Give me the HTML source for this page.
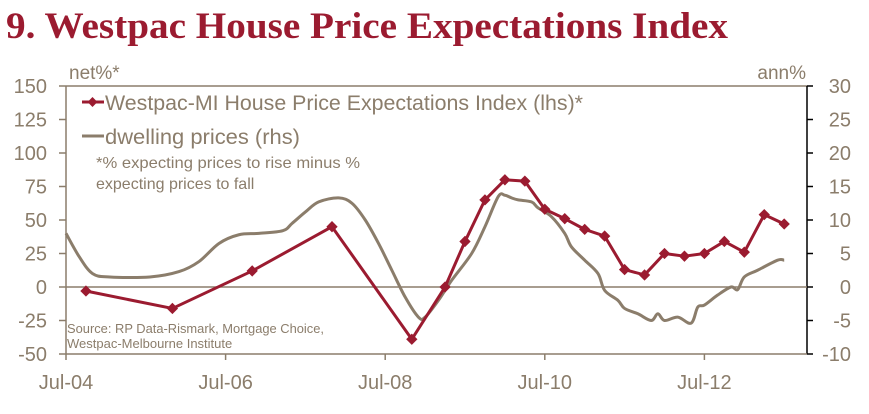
<!DOCTYPE html>
<html><head><meta charset="utf-8"><style>
body{margin:0;background:#fff;}
svg text{font-family:"Liberation Sans",sans-serif;}
</style></head><body>
<svg id="chart" width="869" height="409" xmlns="http://www.w3.org/2000/svg">
<text x="6" y="38" textLength="722" lengthAdjust="spacingAndGlyphs" style="font-family:'Liberation Serif',serif;font-weight:bold;font-size:37px;fill:#9B1B30">9. Westpac House Price Expectations Index</text>
<text x="69" y="79" font-size="19" fill="#8B7D6B">net%*</text>
<text x="806" y="79" font-size="19" fill="#8B7D6B" text-anchor="end">ann%</text>
<g id="axes"></g>
<g id="series"></g>
<g>
<line x1="82" y1="102" x2="104" y2="102" stroke="#9B1B30" stroke-width="3"/>
<rect x="89" y="98.5" width="7" height="7" fill="#9B1B30" transform="rotate(45 92.5 102)"/>
<text x="105" y="110" font-size="21" textLength="478" lengthAdjust="spacingAndGlyphs" fill="#8B7D6B">Westpac-MI House Price Expectations Index (lhs)*</text>
<line x1="82" y1="136" x2="104" y2="136" stroke="#8B7D6B" stroke-width="3"/>
<text x="105" y="144" font-size="21" textLength="195" lengthAdjust="spacingAndGlyphs" fill="#8B7D6B">dwelling prices (rhs)</text>
<text x="96" y="168" font-size="16" textLength="264" lengthAdjust="spacingAndGlyphs" fill="#8B7D6B">*% expecting prices to rise minus %</text>
<text x="96" y="189" font-size="16" fill="#8B7D6B">expecting prices to fall</text>
</g>
<text x="67" y="333" font-size="13" textLength="257" lengthAdjust="spacingAndGlyphs" fill="#8B7D6B">Source: RP Data-Rismark, Mortgage Choice,</text>
<text x="67" y="348" font-size="13" fill="#8B7D6B">Westpac-Melbourne Institute</text>
</svg>
<script>
const lhsTicks=[-50,-25,0,25,50,75,100,125,150];
const rhsTicks=[-10,-5,0,5,10,15,20,25,30];
const xTickLabels=["Jul-04","Jul-06","Jul-08","Jul-10","Jul-12"];
const xTickMonths=[0,24,48,72,96];
const expMonths=[3,16,28,40,52,57,60,63,66,69,72,75,78,81,84,87,90,93,96,99,102,105,108];
const expValues=[-3,-16,12,45,-39,0,34,65,80,79,58,51,43,38,13,9,25,23,25,34,26,54,47];
const dwMonths=[0,2,4,6.6,12.6,17,20,23,26,29,32.6,34,36,38,41,43,45,47,49,51,53,54,56,58,61,63,65,66,67,68,70,71,73,75,76,78,80,81,83,84,86,88,89,90,92,94,95,96,98,100,101,102,104,107,108];
const dwValues=[8,4.5,2,1.5,1.5,2.3,3.8,6.5,7.8,8,8.4,9.5,11.2,12.7,13.3,12.5,10,6.5,2.5,-1.5,-4.5,-4.5,-2,1,5,9,13.5,13.7,13.3,13,12.7,11.8,10.5,8,6,4,2,-0.5,-2,-3.2,-4,-5,-4,-5,-4.5,-5.4,-3,-2.7,-1.2,0,-0.4,1.5,2.5,4,4];
const L=66,R=807,T=86,B=354;
const x=m=>L+m*6.65;
const yl=v=>B-(v+50)/200*(B-T);
const yr=v=>B-(v+10)/40*(B-T);
const NS="http://www.w3.org/2000/svg";
function mk(tag,attrs,parent){const e=document.createElementNS(NS,tag);for(const k in attrs)e.setAttribute(k,attrs[k]);parent.appendChild(e);return e;}
const ax=document.getElementById('axes'),se=document.getElementById('series');
let e;
e=mk('line',{x1:L,y1:T,x2:R,y2:T,stroke:'#8B7D6B','stroke-width':1.5},ax);


e=mk('line',{x1:L,y1:T,x2:L,y2:B,stroke:'#8B7D6B','stroke-width':1.5},ax);


e=mk('line',{x1:R,y1:T,x2:R,y2:B,stroke:'#000','stroke-width':1.5},ax);


e=mk('line',{x1:L,y1:B,x2:R,y2:B,stroke:'#8B7D6B','stroke-width':1.5},ax);


e=mk('line',{x1:L,y1:yl(0),x2:R,y2:yl(0),stroke:'#8B7D6B','stroke-width':1.5},ax);


lhsTicks.forEach(v=>{
 e=mk('line',{x1:L-7,y1:yl(v),x2:L,y2:yl(v),stroke:'#8B7D6B','stroke-width':1.5},ax);
 
 
 e=mk('text',{x:47,y:yl(v)+7,'font-size':20,fill:'#8B7D6B','text-anchor':'end'},ax);e.textContent=v;
 
 
});
rhsTicks.forEach(v=>{
 e=mk('line',{x1:R,y1:yr(v),x2:R+6,y2:yr(v),stroke:'#000','stroke-width':1.5},ax);
 
 
 e=mk('text',{x:R+44,y:yr(v)+7,'font-size':20,fill:'#8B7D6B','text-anchor':'end'},ax);e.textContent=v;
 
 
});
xTickMonths.forEach((m,i)=>{
 e=mk('line',{x1:x(m),y1:B,x2:x(m),y2:B+6,stroke:'#8B7D6B','stroke-width':1.5},ax);
 
 
 e=mk('text',{x:x(m),y:389,'font-size':20,fill:'#8B7D6B','text-anchor':'middle'},ax);e.textContent=xTickLabels[i];
 
 
});
function smooth(pts){
 let d='M'+pts[0][0]+','+pts[0][1];
 for(let i=0;i<pts.length-1;i++){
  const p0=pts[i-1]||pts[i],p1=pts[i],p2=pts[i+1],p3=pts[i+2]||p2;
  const c1x=p1[0]+(p2[0]-p0[0])/6,c1y=p1[1]+(p2[1]-p0[1])/6;
  const c2x=p2[0]-(p3[0]-p1[0])/6,c2y=p2[1]-(p3[1]-p1[1])/6;
  d+=' C'+c1x+','+c1y+' '+c2x+','+c2y+' '+p2[0]+','+p2[1];
 }
 return d;
}
e=mk('path',{d:smooth(dwMonths.map((m,i)=>[x(m),yr(dwValues[i])])),fill:'none',stroke:'#8B7D6B','stroke-width':3,'stroke-linejoin':'round'},se);


e=mk('polyline',{points:expMonths.map((m,i)=>x(m)+','+yl(expValues[i])).join(' '),fill:'none',stroke:'#9B1B30','stroke-width':3,'stroke-linejoin':'round'},se);


expMonths.forEach((m,i)=>{
 const cx=x(m),cy=yl(expValues[i]);
 e=mk('rect',{x:cx-4,y:cy-4,width:8,height:8,fill:'#9B1B30',transform:`rotate(45 ${cx} ${cy})`},se);
 
 
});
</script>
</body></html>
